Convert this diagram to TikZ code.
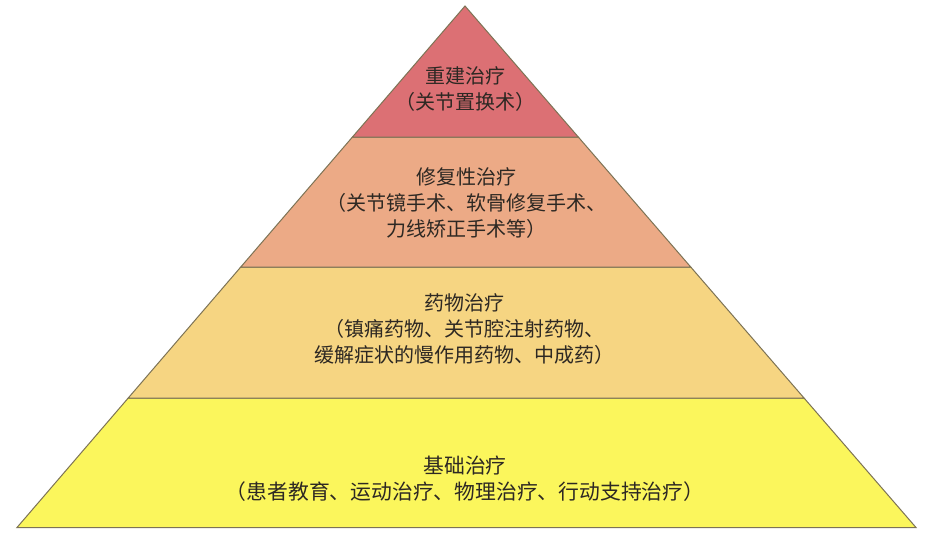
\documentclass[tikz,border=0pt]{standalone}
\usepackage{fontspec}
\newfontfamily\cjk{Noto Sans CJK SC}
\usetikzlibrary{calc}
\definecolor{lvlone}{RGB}{220,112,116}
\definecolor{lvltwo}{RGB}{236,170,134}
\definecolor{lvlthree}{RGB}{246,213,130}
\definecolor{lvlfour}{RGB}{251,246,92}
\definecolor{edgecol}{RGB}{125,115,85}
\definecolor{txtcol}{RGB}{45,40,35}
\tikzset{
  layer/.style={draw=edgecol, line width=1pt, line join=miter},
  lbl/.style={font=\cjk\fontsize{20}{26}\selectfont, text=txtcol, align=center, inner sep=0pt}
}
\begin{document}
\begin{tikzpicture}[x=1pt,y=-1pt]
\useasboundingbox (0,0) rectangle (927,535);
\fill[white] (0,0) rectangle (927,535);
\coordinate (A) at (465,6);
\coordinate (BL) at (17,527.5);
\coordinate (BR) at (916,527.5);
% level split points
\coordinate (L1) at ($(A)!0.2512!(BL)$);
\coordinate (R1) at ($(A)!0.2512!(BR)$);
\coordinate (L2) at ($(A)!0.5005!(BL)$);
\coordinate (R2) at ($(A)!0.5005!(BR)$);
\coordinate (L3) at ($(A)!0.7517!(BL)$);
\coordinate (R3) at ($(A)!0.7517!(BR)$);
\filldraw[layer, fill=lvlfour] (L3) -- (R3) -- (BR) -- (BL) -- cycle;
\filldraw[layer, fill=lvlthree] (L2) -- (R2) -- (R3) -- (L3) -- cycle;
\filldraw[layer, fill=lvltwo] (L1) -- (R1) -- (R2) -- (L2) -- cycle;
\filldraw[layer, fill=lvlone] (A) -- (R1) -- (L1) -- cycle;
\node[lbl] (t1) at (465,89) {重建治疗\\（关节置换术）};
\node[lbl] (t2) at (466,203) {修复性治疗\\（关节镜手术、软骨修复手术、\\力线矫正手术等）};
\node[lbl] (t3) at (464,329) {药物治疗\\（镇痛药物、关节腔注射药物、\\缓解症状的慢作用药物、中成药）};
\node[lbl, font=\cjk\fontsize{20.8}{26}\selectfont] (t4) at (465,479) {基础治疗\\（患者教育、运动治疗、物理治疗、行动支持治疗）};
\end{tikzpicture}
\end{document}
